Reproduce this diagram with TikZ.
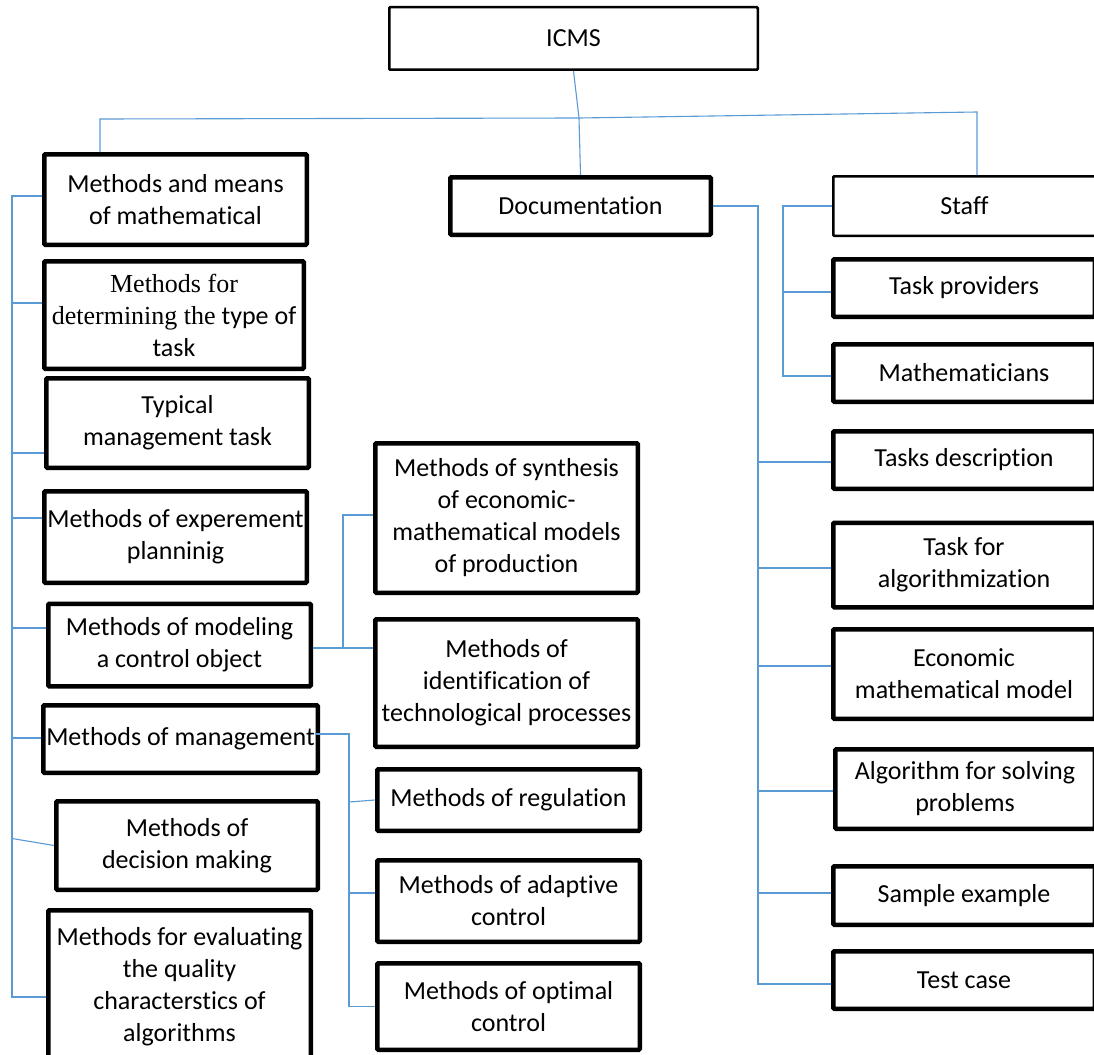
\documentclass[tikz,border=0pt]{standalone}
\usepackage{fontspec}
\setmainfont[Ligatures={NoCommon,NoRare,NoContextual}]{Carlito}
\newfontfamily\seriffam{Liberation Serif}
\usetikzlibrary{calc}
\definecolor{lineblue}{HTML}{5B9BD5}
\begin{document}
\begin{tikzpicture}[x=1pt,y=-1pt,
  conn/.style={draw=lineblue, line width=1.1pt},
  tbox/.style={draw=black, line width=4.5pt, rounded corners=1pt, align=center,
    inner sep=0pt, text=black, font=\fontsize{26}{32}\selectfont},
  nbox/.style={tbox, line width=2.5pt},
]
\fill[white] (0,0) rectangle (1094,1054);
\useasboundingbox (0,0) rectangle (1094,1054);
\clip (0,0) rectangle (1094,1054);

% top
\node[nbox, minimum width=368.5pt, minimum height=62.5pt] (icms) at (573.5,38.5) {ICMS};
\node[tbox, minimum width=260.5pt, minimum height=57.5pt] (doc) at (580.5,206) {Documentation};
\node[nbox, minimum width=262.5pt, minimum height=59.5pt] (staff) at (964.5,206) {Staff};

% left column
\node[tbox, minimum width=262.5pt, minimum height=90.5pt] (mm) at (175.5,199.5) {Methods and means\\of mathematical};
\node[tbox, minimum width=259.5pt, minimum height=107.5pt] (det) at (174,315) {{\seriffam Methods for}\\{\seriffam determining the} type of\\task};
\node[tbox, minimum width=262.5pt, minimum height=89.5pt] (typ) at (177.5,423) {Typical\\management task};
\node[tbox, minimum width=262.5pt, minimum height=91.5pt] (exp) at (175.5,537) {Methods of experement\\planninig};
\node[tbox, minimum width=262.5pt, minimum height=82.5pt] (mod) at (179.5,645) {Methods of modeling\\a control object};
\node[tbox, minimum width=274.5pt, minimum height=67.5pt] (man) at (180.5,739) {Methods of management};
\node[tbox, minimum width=261.5pt, minimum height=88.5pt] (dec) at (187,845.5) {Methods of\\decision making};
\node[tbox, minimum width=262.5pt, minimum height=153.5pt] (evl) at (179.5,987) {Methods for evaluating\\the quality\\characterstics of\\algorithms};

% middle column
\node[tbox, minimum width=262.5pt, minimum height=149.5pt] (syn) at (506.5,518) {Methods of synthesis\\of economic-\\mathematical models\\of production};
\node[tbox, minimum width=262.5pt, minimum height=127.5pt] (idn) at (506.5,683) {Methods of\\identification of\\technological processes};
\node[tbox, minimum width=262.5pt, minimum height=61.5pt] (reg) at (508.5,800) {Methods of regulation};
\node[tbox, minimum width=262.5pt, minimum height=81.5pt] (ada) at (508.5,901) {Methods of adaptive\\control};
\node[tbox, minimum width=262.5pt, minimum height=86.5pt] (opt) at (508.5,1006.5) {Methods of optimal\\control};

% right column
\node[tbox, minimum width=261.5pt, minimum height=57.5pt] (tp) at (964,288) {Task providers};
\node[tbox, minimum width=261.5pt, minimum height=57.5pt] (mat) at (964,373) {Mathematicians};
\node[tbox, minimum width=261.5pt, minimum height=57.5pt] (td) at (964,460) {Tasks description};
\node[tbox, minimum width=261.5pt, minimum height=84.5pt] (tfa) at (964,565) {Task for\\algorithmization};
\node[tbox, minimum width=261.5pt, minimum height=89.5pt] (eco) at (964,674) {Economic\\mathematical model};
\node[tbox, minimum width=259.5pt, minimum height=79.5pt] (alg) at (965,789) {Algorithm for solving\\problems};
\node[tbox, minimum width=261.5pt, minimum height=58.5pt] (sam) at (964,895.5) {Sample example};
\node[tbox, minimum width=261.5pt, minimum height=57.5pt] (tst) at (964,980) {Test case};

% spine coordinates
\coordinate (J) at (579,118);
\coordinate (hl) at (100,119);
\coordinate (hr) at (977,112);
\coordinate (ls) at (12,0);
\coordinate (ds) at (758,0);
\coordinate (ss) at (783,0);
\coordinate (ms) at (343,0);
\coordinate (ns) at (349,0);

% top connectors
\draw[conn] (icms.south) -- (J) -- (doc.north);
\draw[conn] (mm.north -| hl) -- (hl) -- (J) -- (hr) -- (staff.north -| hr);

% left spine
\coordinate (pmm) at ($(mm.west)+(0,-3.5)$);
\coordinate (pdet) at ($(det.west)+(0,-12)$);
\coordinate (ptyp) at ($(typ.west)+(0,30)$);
\coordinate (pexp) at ($(exp.west)+(0,-19)$);
\coordinate (pmod) at ($(mod.west)+(0,-17)$);
\coordinate (pman) at ($(man.west)+(0,-1)$);
\coordinate (pdec) at ($(dec.west)+(0,-7)$);
\coordinate (pevl) at ($(evl.west)+(0,10)$);
\draw[conn] (pmm) -- (ls |- pmm) -- (ls |- pevl) -- (pevl);
\draw[conn] (ls |- pdet) -- (pdet);
\draw[conn] (ls |- ptyp) -- (ptyp);
\draw[conn] (ls |- pexp) -- (pexp);
\draw[conn] (ls |- pmod) -- (pmod);
\draw[conn] (ls |- pman) -- (pman);
\draw[conn] (ls |- pdec) -- (dec.west);

% modeling branch
\coordinate (pmo) at ($(mod.east)+(0,3)$);
\coordinate (psyn) at ($(syn.west)+(0,-3)$);
\draw[conn] (pmo) -- (idn.west |- pmo);
\draw[conn] (ms |- pmo) -- (ms |- psyn) -- (psyn);

% management branch
\coordinate (pma) at ($(man.east)+(-5,-5)$);
\coordinate (pada) at ($(ada.west)+(0,-8)$);
\draw[conn] (pma) -| (ns |- opt.west) -- (opt.west);
\draw[conn] ($(ns |- reg.west)+(0,2)$) -- (reg.west);
\draw[conn] (ns |- pada) -- (pada);

% documentation branch
\coordinate (ptd) at ($(td.west)+(0,2)$);
\coordinate (ptfa) at ($(tfa.west)+(0,3)$);
\coordinate (peco) at ($(eco.west)+(0,-8)$);
\coordinate (palg) at ($(alg.west)+(0,2)$);
\coordinate (psam) at ($(sam.west)+(0,-2.5)$);
\coordinate (ptst) at ($(tst.west)+(0,4)$);
\draw[conn] (doc.east) -| (ds |- ptst) -- (ptst);
\draw[conn] (ds |- ptd) -- (ptd);
\draw[conn] (ds |- ptfa) -- (ptfa);
\draw[conn] (ds |- peco) -- (peco);
\draw[conn] (ds |- palg) -- (palg);
\draw[conn] (ds |- psam) -- (psam);

% staff branch
\coordinate (ptp) at ($(tp.west)+(0,4)$);
\coordinate (pmat) at ($(mat.west)+(0,3)$);
\draw[conn] (staff.west) -| (ss |- pmat) -- (pmat);
\draw[conn] (ss |- ptp) -- (ptp);
\end{tikzpicture}
\end{document}
